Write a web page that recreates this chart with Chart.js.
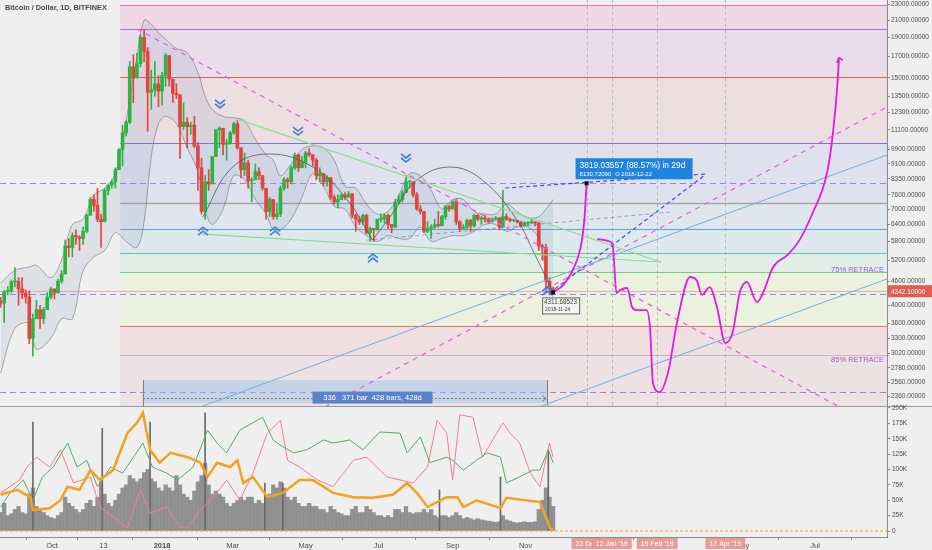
<!DOCTYPE html>
<html>
<head>
<meta charset="utf-8">
<title>Bitcoin / Dollar, 1D, BITFINEX</title>
<script src="https://cdn.jsdelivr.net/npm/chart.js@4.4.1/dist/chart.umd.min.js"></script>
<style>
  html, body { margin: 0; padding: 0; background: #efefef; }
  #wrap { position: relative; width: 932px; height: 550px; overflow: hidden; }
  #pricePane { position: absolute; left: 0; top: 0; width: 932px; height: 407px; }
  #volPane { position: absolute; left: 0; top: 400px; width: 932px; height: 150px; }
</style>
</head>
<body>
<div id="wrap">
  <div id="pricePane"><canvas id="priceChart"></canvas></div>
  <div id="volPane"><canvas id="volChart"></canvas></div>
</div>
<script>
const FONT = '"Liberation Sans", Arial, sans-serif';
Chart.defaults.font.family = FONT;
Chart.defaults.color = '#4d4d4d';

// x unit = days, day 0 = 1 Jan 2018
const dayMin = -135.5, dayMax = 606.2;
const priceMin = 2215, priceMax = 23600;
const volMin = -9.75, volMax = 201.6;

// axis labels
const priceTicks = [23000, 21000, 19000, 17000, 15000, 13500, 12300, 11100, 9900, 9100, 8350, 7600, 7000,
  6400, 5800, 5200, 4600, 4000, 3600, 3300, 3020, 2780, 2560, 2360];
const volTicks = [0, 25, 50, 75, 100, 125, 150, 175, 200];
const timeTickDays = [-92, -49, 0, 59, 120, 181, 243, 304, 485, 546];
const timeTickLabels = ['Oct', '13', '2018', 'Mar', 'May', 'Jul', 'Sep', 'Nov', 'May', 'Jul'];
const futureDays = [355, 376, 414, 471];
const futureLabels = ['22 Dec', "12 Jan '19", "19 Feb '19", "17 Apr '19"];

// candles, 3 days each, first one starts 19 Aug 2017
const candleStartDay = -135;
const candleStep = 3;
const firstOpen = 4100;
const candleClose = [
  4050, 4330, 4350, 4590, 4600, 4400, 4300, 4200, 3300, 3700,
  3900, 3700, 3900, 4200, 4400, 4300, 4600, 4800, 5650, 5600,
  6000, 5950, 5900, 6150, 6750, 7400, 7150, 6600, 6500, 7800,
  8050, 8200, 8800, 9900, 10900, 11600, 16000, 15000, 16300, 19000,
  17500, 13800, 14000, 14500, 13900, 15200, 17100, 14900, 13700, 13600,
  11300, 11600, 11300, 11400, 10100, 8900, 6900, 8200, 8100, 9500,
  11100, 11200, 10200, 10300, 10900, 11500, 10000, 8800, 9150, 8250,
  8300, 8700, 8500, 7900, 6900, 7400, 6700, 6800, 7900, 8300,
  8200, 8900, 9600, 8900, 9200, 9700, 9600, 9300, 8500, 8600,
  8200, 8400, 7500, 7300, 7400, 7600, 7500, 7650, 6750, 6600,
  6500, 6750, 6100, 6250, 6200, 6600, 6600, 6750, 6400, 6300,
  7300, 7400, 7700, 8200, 8200, 7600, 7000, 6900, 6150, 6250,
  6300, 6400, 6350, 6700, 7100, 7000, 7300, 6500, 6250, 6300,
  6550, 6350, 6750, 6600, 6650, 6600, 6500, 6600, 6650, 6300,
  6700, 6600, 6550, 6550, 6500, 6350, 6450, 6450, 6500, 6450,
  5650, 5600, 4600, 4400, 4342];
const candleHigh = [
  4190, 4360, 4460, 4640, 4980, 4700, 4700, 4380, 4350, 3800,
  4120, 4000, 3950, 4300, 4450, 4400, 4650, 4900, 5850, 5900,
  6100, 6200, 6000, 6300, 6800, 7500, 7600, 7900, 6800, 7900,
  8100, 8300, 8900, 9950, 11400, 11700, 16500, 17200, 17300, 19300,
  19900, 17900, 15700, 16500, 15200, 15500, 17300, 17000, 14900, 14500,
  13600, 13000, 11900, 11600, 12000, 10300, 9400, 8500, 8800, 9500,
  11100, 11300, 11000, 10500, 11000, 11600, 11700, 10000, 9700, 9300,
  8400, 9100, 8900, 8500, 7900, 7500, 7400, 7200, 8000, 8400,
  8400, 9000, 9700, 9600, 9500, 9800, 9950, 9600, 9400, 8900,
  8600, 8500, 8400, 7600, 7600, 7650, 7700, 7750, 7650, 6800,
  6700, 6800, 6800, 6300, 6250, 6600, 6800, 6800, 6800, 6400,
  7400, 7600, 7800, 8500, 8250, 8200, 7700, 7150, 6900, 6500,
  6400, 6600, 6900, 6750, 7150, 7150, 7350, 7400, 6550, 6400,
  6600, 6600, 6800, 6800, 6700, 6750, 6650, 6650, 6700, 6650,
  7800, 6800, 6650, 6600, 6550, 6500, 6500, 6500, 6600, 6500,
  6500, 5700, 5700, 4700, 4450];
const candleLow = [
  3950, 3620, 4250, 4300, 4450, 4000, 4150, 4050, 3200, 2980,
  3700, 3500, 3600, 3900, 4150, 4150, 4300, 4550, 4800, 5300,
  5300, 5700, 5500, 5700, 6100, 6900, 6900, 6500, 5600, 6500,
  7600, 7900, 7900, 8900, 9000, 10700, 11500, 13000, 15000, 16000,
  16500, 11000, 12500, 13500, 12700, 12800, 14300, 14300, 13000, 13300,
  9400, 11100, 10000, 10800, 10000, 7800, 6800, 6600, 7800, 8200,
  9700, 10000, 9600, 9300, 10200, 10800, 9900, 8400, 8500, 7900,
  7300, 8300, 8300, 7800, 6600, 6700, 6600, 6600, 6700, 7800,
  7900, 8100, 8800, 8700, 9000, 8900, 9500, 9000, 8300, 8200,
  8000, 8000, 7400, 7200, 7050, 7400, 7400, 7500, 6650, 6150,
  6400, 6400, 6050, 5800, 5800, 6200, 6500, 6450, 6250, 6100,
  6300, 7200, 7300, 7700, 7900, 7500, 6950, 6800, 6100, 6100,
  5900, 6250, 6300, 6400, 6600, 6900, 7000, 6400, 6150, 6200,
  6250, 6150, 6300, 6550, 6400, 6500, 6450, 6500, 6550, 6200,
  6300, 6550, 6500, 6500, 6450, 6300, 6350, 6350, 6450, 6350,
  5500, 5200, 4300, 4250, 4311.68523];
const lastPrice = 4342.1;

// bollinger envelope
const bbDay = [-135, -123, -111, -105, -93, -84, -75, -66, -57, -48,
  -39, -30, -21, -15, -9, -3, 3, 12, 21, 30,
  36, 42, 51, 60, 69, 78, 87, 93, 99, 108,
  117, 126, 135, 144, 153, 162, 171, 180, 189, 198,
  207, 216, 225, 234, 243, 252, 261, 270, 279, 288,
  297, 306, 315, 321, 327];
const bbUpper = [4550, 4900, 5000, 5050, 4700, 5200, 6400, 6600, 7600, 7900,
  8600, 11700, 17000, 21000, 20500, 19500, 18800, 17800, 17400, 15500,
  13500, 12500, 12000, 11900, 11700, 10500, 9600, 9300, 8500, 9100,
  9900, 10100, 10000, 9300, 8000, 7900, 7200, 6800, 6900, 7600,
  8600, 8500, 7800, 7000, 7400, 7400, 6900, 6800, 6800, 7200,
  6900, 6650, 6700, 7000, 7400];
const bbLower = [2700, 3500, 3600, 3100, 3300, 3700, 3700, 4900, 5300, 5500,
  6100, 5800, 5600, 6500, 9500, 11500, 12000, 11500, 10000, 8700,
  7000, 6400, 7000, 8500, 8300, 7400, 6800, 6200, 6200, 6600,
  7500, 8600, 8000, 7100, 7000, 6300, 6000, 5800, 6000, 5900,
  5900, 6300, 5800, 5900, 6000, 6000, 6150, 6400, 6400, 6150,
  6300, 6300, 5900, 4900, 4200];

// volume (thousands), one value per candle
const volume = [30, 45, 25, 28, 35, 40, 30, 28,
  60, 70, 40, 35, 30, 25, 22, 20, 25, 30,
  55, 45, 40, 35, 30, 35, 45, 50, 40, 55,
  80, 60, 45, 40, 50, 60, 70, 75, 90, 85,
  80, 85, 95, 100, 85, 80, 70, 65, 75, 70,
  65, 90, 75, 60, 55, 50, 65, 80, 90, 110,
  75, 60, 65, 60, 55, 45, 40, 45, 50, 55,
  50, 55, 55, 45, 50, 45, 55, 60, 75, 70,
  80, 70, 55, 50, 55, 45, 40, 40, 45, 40,
  40, 35, 35, 30, 40, 35, 30, 28, 25, 25,
  35, 40, 30, 30, 40, 35, 30, 25, 25, 22,
  25, 22, 35, 35, 30, 40, 30, 28, 30, 30,
  35, 30, 35, 25, 22, 25, 25, 22, 25, 30,
  25, 20, 22, 20, 18, 20, 18, 17, 16, 15,
  14, 15, 25, 18, 16, 14, 13, 14, 15, 14,
  14, 15, 35, 50, 70, 55, 40];
const spikeDay = [-108, -50, -10, 36, 86, 101, 232, 283, 323];
const spikeVol = [177, 167, 177, 192, 78, 78, 67, 88, 132];

// indicator lines in the lower pane
const orangeDay = [-135, -121, -110, -108, -94, -85, -79, -69, -60, -52,
  -41, -29, -21, -16, -10, -2, 7, 23, 32, 38,
  46, 57, 63, 68, 76, 88, 101, 115, 126, 143,
  160, 176, 193, 205, 213, 222, 238, 247, 252, 263,
  283, 288, 316, 322, 324, 327];
const orangeVal = [59, 67, 55, 34, 37, 50, 72, 67, 99, 83,
  99, 159, 176, 192, 132, 111, 127, 119, 111, 88,
  111, 104, 115, 78, 88, 55, 62, 83, 83, 62,
  55, 54, 59, 78, 62, 39, 55, 55, 39, 50,
  37, 54, 47, 18, 5, 2];
const greenDay = [-135, -127, -116, -108, -100, -91, -79, -71, -63, -54,
  -43, -33, -16, -8, 4, 13, 26, 38, 46, 54,
  65, 76, 84, 93, 101, 110, 121, 135, 143, 157,
  168, 182, 199, 205, 216, 224, 238, 243, 252, 263,
  272, 283, 288, 299, 310, 316, 323, 327];
const greenVal = [39, 62, 83, 50, 88, 104, 143, 104, 115, 72,
  104, 94, 143, 104, 94, 83, 104, 164, 143, 127,
  164, 176, 185, 148, 137, 127, 132, 148, 143, 148,
  132, 161, 159, 127, 153, 111, 120, 115, 99, 115,
  127, 120, 78, 88, 99, 99, 132, 111];
const pinkDay = [-135, -119, -113, -105, -94, -85, -74, -60, -52, -41,
  -29, -18, -10, 4, 15, 21, 32, 43, 54, 65,
  76, 88, 99, 105, 115, 130, 143, 160, 171, 188,
  199, 210, 222, 230, 238, 243, 249, 260, 268, 285,
  291, 299, 308, 316, 324, 327];
const pinkVal = [62, 83, 104, 120, 104, 132, 78, 88, 39, 23,
  5, 67, 29, 39, 6, 5, 34, 55, 83, 50,
  94, 159, 180, 115, 104, 83, 72, 115, 120, 88,
  83, 78, 104, 180, 159, 83, 189, 185, 120, 176,
  159, 143, 94, 72, 143, 120];

// fibonacci levels and drawings, [day, price]
const fibStartDay = -35;
const fibLevels = [22900, 19891, 15080, 10280, 7250, 6233, 5421, 4855, 3547, 2997];
const dashLevels = [8150, 4272, 2417];
const downTrend = [[-21, 19940], [565, 2228]];
const upTrend = [[136, 2215], [606.2, 12670]];
const blueLineA = [[32, 2215], [606.2, 9585]];
const blueLineB = [[315, 2215], [606.2, 4662]];
const wedgeTop = [[63, 11810], [417, 5145]];
const wedgeBottom = [[34, 6053], [417, 5145]];
const arcOne = [[34, 6684], [59, 8937], [90, 9640], [126, 8937], [155, 7374], [176, 5843]];
const arcTwo = [[176, 5843], [193, 6842], [213, 8283], [241, 8937], [268, 8283], [297, 6564], [310, 5509], [327, 4321]];
const rangeFloor = [[171, 5843], [425, 6880]];
const measureTop = [[287, 7911], [454, 8582]];
const measureDiag = [[324, 4297], [454, 8532]];
const projUp = [[327, 4311.68523], [336, 4520], [344, 4950], [350, 5600], [353, 6500], [355, 8130.7209]];
const projPath = [[364, 5882], [375, 5780], [377, 5614], [380, 4297], [383, 4371], [389, 4424], [393, 3961],
  [397, 3890], [405, 3890], [408, 3526], [410.5, 2546], [416, 2417], [423, 2698], [431, 3670], [441.5, 4716],
  [447, 4631], [451.5, 4249], [458, 4449], [464, 3961], [471, 3212], [477, 3405], [483, 4297], [489, 4581],
  [497.5, 4076], [502.5, 4297], [511, 4998], [523, 5360], [533, 5843], [544, 6842], [556, 8630], [561, 10890],
  [565, 14820], [566, 16850]];
const chevronsDown = [[48.5, 12820], [113.7, 10955], [204, 9365]];
const chevronsUp = [[34.3, 6190], [94.5, 6190], [176.4, 5296], [322, 4371]];
const retraceLabels = ['75% RETRACE', '85% RETRACE'];
const retracePrices = [4908, 2908];
const rangeDays = [-16, 322];
const rangePrices = [2589, 2265, 2340];
const rangeLabelDay = 176;
const rangeLabel = '336   371 bar  428 bars, 428d';
const lowPoint = [327, 4311.68523];
const targetPoint = [355, 8130.7209];

// styles
const fibLineColors = ['#dc74b8', '#b06ad8', '#e05a5a', '#7d70cf', '#a6a6a6', '#5da2d8', '#5cc6a6', '#70cf70', '#dc7670', '#cbb6c6'];
const fibZoneColors = ['#eed8e6', '#eadce8', '#eddfe1', '#e0e1ee', '#dfe6ee', '#dde9ed', '#e1eee8', '#ebf0df', '#efdfe0', '#ede2e3'];

const candleDays = candleClose.map((_, i) => candleStartDay + i * candleStep);
const candleOpen = candleClose.map((c, i) => i === 0 ? firstOpen : candleClose[i - 1]);
const candleColor = candleClose.map((c, i) => c >= candleOpen[i] ? '#2eb341' : '#e2453f');

const pts = arr => arr.map(p => ({ x: p[0], y: p[1] }));
const zip = (xs, ys) => xs.map((x, i) => ({ x: x, y: ys[i] }));
function lineSet(data, color, width, dash, order, extra) {
  return Object.assign({
    type: 'line', data: data, borderColor: color, borderWidth: width, borderDash: dash || [],
    pointRadius: 0, fill: false, tension: 0, order: order
  }, extra || {});
}

function chevron(ctx, x, y, up) {
  const s = up ? -1 : 1;
  ctx.beginPath();
  [-3, 1].forEach(off => {
    const y0 = y + off * s;
    ctx.moveTo(x - 5, y0 - 2 * s);
    ctx.lineTo(x, y0 + 2 * s);
    ctx.lineTo(x + 5, y0 - 2 * s);
  });
  ctx.stroke();
}

const pricePlugin = {
  id: 'priceDrawings',
  beforeDatasetsDraw(chart) {
    const { ctx, chartArea: a } = chart;
    const X = d => chart.scales.x.getPixelForValue(d);
    const Y = p => chart.scales.y.getPixelForValue(p);
    ctx.save();
    ctx.beginPath(); ctx.rect(a.left, a.top, a.right - a.left, a.bottom - a.top); ctx.clip();
    const left = X(fibStartDay);
    const bounds = fibLevels.concat([priceMin]);
    fibZoneColors.forEach((c, i) => {
      const y1 = Y(bounds[i]), y2 = Y(bounds[i + 1]);
      ctx.fillStyle = c;
      ctx.fillRect(left, y1, a.right - left, y2 - y1);
    });
    fibLevels.forEach((lv, i) => {
      const yy = Math.round(Y(lv)) + 0.5;
      ctx.strokeStyle = fibLineColors[i];
      ctx.lineWidth = i === 4 ? 1.6 : 1;
      ctx.beginPath(); ctx.moveTo(left, yy); ctx.lineTo(a.right, yy); ctx.stroke();
    });
    // last price line
    let yy = Math.round(Y(lastPrice)) + 0.5;
    ctx.strokeStyle = 'rgba(215,130,120,0.55)'; ctx.lineWidth = 1;
    ctx.beginPath(); ctx.moveTo(a.left, yy); ctx.lineTo(a.right, yy); ctx.stroke();
    // full width dashed levels
    ctx.strokeStyle = '#9d82e2'; ctx.setLineDash([6, 4]);
    dashLevels.forEach(lv => {
      const y0 = Math.round(Y(lv)) + 0.5;
      ctx.beginPath(); ctx.moveTo(a.left, y0); ctx.lineTo(a.right, y0); ctx.stroke();
    });
    // future date markers
    ctx.strokeStyle = 'rgba(150,150,150,0.55)'; ctx.setLineDash([3, 3]);
    futureDays.forEach(d => {
      const x0 = Math.round(X(d)) + 0.5;
      ctx.beginPath(); ctx.moveTo(x0, a.top); ctx.lineTo(x0, a.bottom); ctx.stroke();
    });
    ctx.setLineDash([]);
    // date range box
    const rx1 = X(rangeDays[0]), rx2 = X(rangeDays[1]);
    const ry1 = Y(rangePrices[0]), ry2 = Y(rangePrices[1]);
    ctx.fillStyle = 'rgba(160,195,235,0.5)';
    ctx.fillRect(rx1, ry1, rx2 - rx1, ry2 - ry1);
    ctx.strokeStyle = '#7d7d7d';
    [rx1, rx2].forEach(x0 => {
      ctx.beginPath(); ctx.moveTo(Math.round(x0) + 0.5, ry1); ctx.lineTo(Math.round(x0) + 0.5, a.bottom); ctx.stroke();
    });
    const rm = Math.round(Y(rangePrices[2])) + 0.5;
    ctx.setLineDash([2, 2]);
    ctx.beginPath(); ctx.moveTo(rx1, rm); ctx.lineTo(rx2 - 2, rm); ctx.stroke();
    ctx.setLineDash([]);
    ctx.beginPath(); ctx.moveTo(rx2 - 5, rm - 3); ctx.lineTo(rx2 - 1, rm); ctx.lineTo(rx2 - 5, rm + 3); ctx.stroke();
    ctx.restore();
  },
  afterDatasetsDraw(chart) {
    const { ctx, chartArea: a } = chart;
    const X = d => chart.scales.x.getPixelForValue(d);
    const Y = p => chart.scales.y.getPixelForValue(p);
    ctx.save();
    // chevrons
    ctx.strokeStyle = '#3d7ed6'; ctx.lineWidth = 1.6;
    chevronsDown.forEach(p => chevron(ctx, X(p[0]), Y(p[1]), false));
    chevronsUp.forEach(p => chevron(ctx, X(p[0]), Y(p[1]), true));
    // arrow head of projection
    const tip = projPath[projPath.length - 1];
    const tx = X(tip[0]), ty = Y(tip[1]);
    ctx.strokeStyle = '#e21be0'; ctx.lineWidth = 1.6;
    ctx.beginPath(); ctx.moveTo(tx - 2, ty + 5); ctx.lineTo(tx, ty); ctx.lineTo(tx + 4, ty + 2); ctx.stroke();
    // retrace texts
    ctx.font = '7.5px ' + FONT; ctx.fillStyle = '#a159e0';
    ctx.textAlign = 'right'; ctx.textBaseline = 'middle';
    retraceLabels.forEach((t, i) => ctx.fillText(t, a.right - 3, Y(retracePrices[i])));
    // range label
    const lx = X(rangeLabelDay), ly = Y(rangePrices[2]);
    ctx.fillStyle = '#5a83c9';
    ctx.fillRect(lx - 60, ly - 6, 120, 12);
    ctx.fillStyle = '#ffffff'; ctx.textAlign = 'center'; ctx.font = '7.5px ' + FONT;
    ctx.fillText(rangeLabel, lx, ly + 0.5);
    // low point label
    const px = X(lowPoint[0]), py = Y(lowPoint[1]);
    ctx.fillStyle = 'rgba(245,245,245,0.85)'; ctx.strokeStyle = '#666'; ctx.lineWidth = 1;
    ctx.fillRect(px - 10.5, py + 5.5, 37, 16); ctx.strokeRect(px - 10.5, py + 5.5, 37, 16);
    ctx.fillStyle = '#444'; ctx.textAlign = 'left';
    ctx.font = '6.3px ' + FONT; ctx.fillText('4311.68523', px - 9, py + 10);
    ctx.font = '5px ' + FONT; ctx.fillText('2018-11-24', px - 8, py + 17);
    // target label
    const qx = X(targetPoint[0]), qy = Y(targetPoint[1]);
    ctx.fillStyle = '#1f83e0';
    ctx.fillRect(qx - 11, qy - 25, 117, 21);
    ctx.fillStyle = '#ffffff';
    ctx.font = '8.4px ' + FONT; ctx.fillText('3819.03557 (88.57%) in 29d', qx - 7, qy - 18);
    ctx.font = '6px ' + FONT; ctx.fillText('8130.72090  \u2299 2018-12-22', qx - 7, qy - 9);
    // end points
    ctx.fillStyle = '#111';
    ctx.fillRect(px - 2, py - 2, 4, 4);
    ctx.fillRect(qx - 2, qy - 2, 4, 4);
    ctx.restore();
  },
  afterDraw(chart) {
    const { ctx, chartArea: a } = chart;
    const Y = p => chart.scales.y.getPixelForValue(p);
    ctx.save();
    const yy = Y(lastPrice);
    ctx.fillStyle = '#e35d4f';
    ctx.fillRect(a.right + 1, yy - 6, chart.width - a.right - 1, 12);
    ctx.fillStyle = '#ffffff'; ctx.font = '6.5px ' + FONT;
    ctx.textBaseline = 'middle'; ctx.textAlign = 'left';
    ctx.fillText(lastPrice.toFixed(5), a.right + 4, yy + 0.5);
    ctx.strokeStyle = '#9a9a9a'; ctx.lineWidth = 1;
    ctx.beginPath(); ctx.moveTo(0, chart.height - 0.5); ctx.lineTo(chart.width, chart.height - 0.5); ctx.stroke();
    ctx.fillStyle = '#4a4a4a'; ctx.font = 'bold 7.3px ' + FONT; ctx.textBaseline = 'alphabetic';
    ctx.fillText('Bitcoin / Dollar, 1D, BITFINEX', 5, 10);
    ctx.restore();
  }
};

new Chart(document.getElementById('priceChart'), {
  type: 'bar',
  data: {
    datasets: [
      lineSet(zip(bbDay, bbUpper), 'rgba(95,95,95,0.5)', 1, null, 30, { tension: 0.35 }),
      lineSet(zip(bbDay, bbLower), 'rgba(95,95,95,0.5)', 1, null, 30,
        { tension: 0.35, fill: '-1', backgroundColor: 'rgba(120,150,185,0.15)' }),
      { type: 'bar', data: candleDays.map((d, i) => ({ x: d, y: [candleLow[i], candleHigh[i]] })),
        backgroundColor: candleColor, barThickness: 1, grouped: false, order: 20 },
      { type: 'bar', data: candleDays.map((d, i) => ({ x: d, y: [candleOpen[i], candleClose[i]] })),
        backgroundColor: candleColor, barThickness: 3, minBarLength: 1, grouped: false, order: 19 },
      lineSet(pts(arcOne), 'rgba(85,85,85,0.8)', 1, null, 9, { tension: 0.4 }),
      lineSet(pts(arcTwo), 'rgba(85,85,85,0.8)', 1, null, 9, { tension: 0.4 }),
      lineSet(pts(wedgeTop), '#8fdc8f', 1.2, null, 8),
      lineSet(pts(wedgeBottom), '#8fdc8f', 1.2, null, 8),
      lineSet(pts(rangeFloor), 'rgba(120,110,190,0.6)', 1, [4, 3], 8),
      lineSet(pts(blueLineA), '#6db0e0', 1, null, 7),
      lineSet(pts(blueLineB), '#6db0e0', 1, null, 7),
      lineSet(pts(downTrend), '#e55ce0', 1.2, [5, 5], 6),
      lineSet(pts(upTrend), '#e55ce0', 1.2, [5, 5], 6),
      lineSet(pts(measureTop), '#4150d8', 1.2, [4, 3], 5),
      lineSet(pts(measureDiag), '#4150d8', 1.2, [4, 3], 5),
      lineSet(pts(projUp), '#e21be0', 1.8, null, 2, { cubicInterpolationMode: 'monotone' }),
      lineSet(pts(projPath), '#e21be0', 1.8, null, 2, { cubicInterpolationMode: 'monotone' })
    ]
  },
  options: {
    responsive: true, maintainAspectRatio: false, animation: false,
    layout: { padding: 0 },
    plugins: { legend: { display: false }, tooltip: { enabled: false } },
    scales: {
      x: { type: 'linear', min: dayMin, max: dayMax, display: false, offset: false },
      y: {
        type: 'logarithmic', position: 'right', min: priceMin, max: priceMax,
        afterBuildTicks: s => { s.ticks = priceTicks.map(v => ({ value: v })); },
        afterFit: s => { s.width = 45; s.paddingTop = 0; s.paddingBottom = 0; },
        ticks: { callback: v => Number(v).toFixed(5), font: { size: 6.5 }, color: '#4d4d4d',
          padding: 1, autoSkip: false, maxRotation: 0 },
        grid: { drawOnChartArea: false, tickLength: 3, color: '#8a8a8a' },
        border: { color: '#8a8a8a' }
      }
    }
  },
  plugins: [pricePlugin]
});

const volPlugin = {
  id: 'futureDates',
  afterDraw(chart) {
    const { ctx, chartArea: a } = chart;
    const X = d => chart.scales.x.getPixelForValue(d);
    ctx.save();
    ctx.font = '7px ' + FONT; ctx.textAlign = 'center'; ctx.textBaseline = 'middle';
    futureDays.forEach((d, i) => {
      const x0 = X(d);
      const w = ctx.measureText(futureLabels[i]).width + 8;
      ctx.fillStyle = 'rgba(228,150,142,0.9)';
      ctx.fillRect(x0 - w / 2, a.bottom + 1, w, 11);
      ctx.fillStyle = '#ffffff';
      ctx.fillText(futureLabels[i], x0, a.bottom + 7);
    });
    ctx.restore();
  }
};

new Chart(document.getElementById('volChart'), {
  type: 'bar',
  data: {
    datasets: [
      { type: 'bar', data: zip(candleDays, volume), backgroundColor: 'rgba(135,135,135,0.9)',
        barThickness: 3.6, grouped: false, order: 20 },
      { type: 'bar', data: zip(spikeDay, spikeVol), backgroundColor: '#6a6a6a',
        barThickness: 1, grouped: false, order: 19 },
      lineSet([{ x: dayMin, y: 0 }, { x: dayMax, y: 0 }], '#f5a623', 1, [3, 2], 6),
      lineSet(zip(pinkDay, pinkVal), '#ee7f98', 1, null, 5),
      lineSet(zip(greenDay, greenVal), '#5aa865', 1, null, 4),
      lineSet(zip(orangeDay, orangeVal), '#f7a01c', 2.5, null, 3)
    ]
  },
  options: {
    responsive: true, maintainAspectRatio: false, animation: false,
    layout: { padding: { top: 7 } },
    plugins: { legend: { display: false }, tooltip: { enabled: false } },
    scales: {
      x: {
        type: 'linear', min: dayMin, max: dayMax, offset: false,
        afterBuildTicks: s => { s.ticks = timeTickDays.map(v => ({ value: v })); },
        afterFit: s => { s.height = 13; s.paddingLeft = 0; s.paddingRight = 0; },
        ticks: {
          callback: v => timeTickLabels[timeTickDays.indexOf(v)],
          font: c => (c.tick && c.tick.value === 0) ? { size: 7.5, weight: 'bold' } : { size: 7.5 },
          color: '#4d4d4d', padding: 1, autoSkip: false, maxRotation: 0
        },
        grid: { drawOnChartArea: false, tickLength: 3, color: '#8a8a8a' },
        border: { color: '#8a8a8a' }
      },
      y: {
        type: 'linear', position: 'right', min: volMin, max: volMax,
        afterBuildTicks: s => { s.ticks = volTicks.map(v => ({ value: v })); },
        afterFit: s => { s.width = 45; s.paddingTop = 0; s.paddingBottom = 0; },
        ticks: { callback: v => v === 0 ? '0' : v + 'K', font: { size: 6.5 }, color: '#4d4d4d',
          padding: 2, autoSkip: false },
        grid: { drawOnChartArea: false, tickLength: 3, color: '#8a8a8a' },
        border: { color: '#8a8a8a' }
      }
    }
  },
  plugins: [volPlugin]
});
</script>
</body>
</html>
